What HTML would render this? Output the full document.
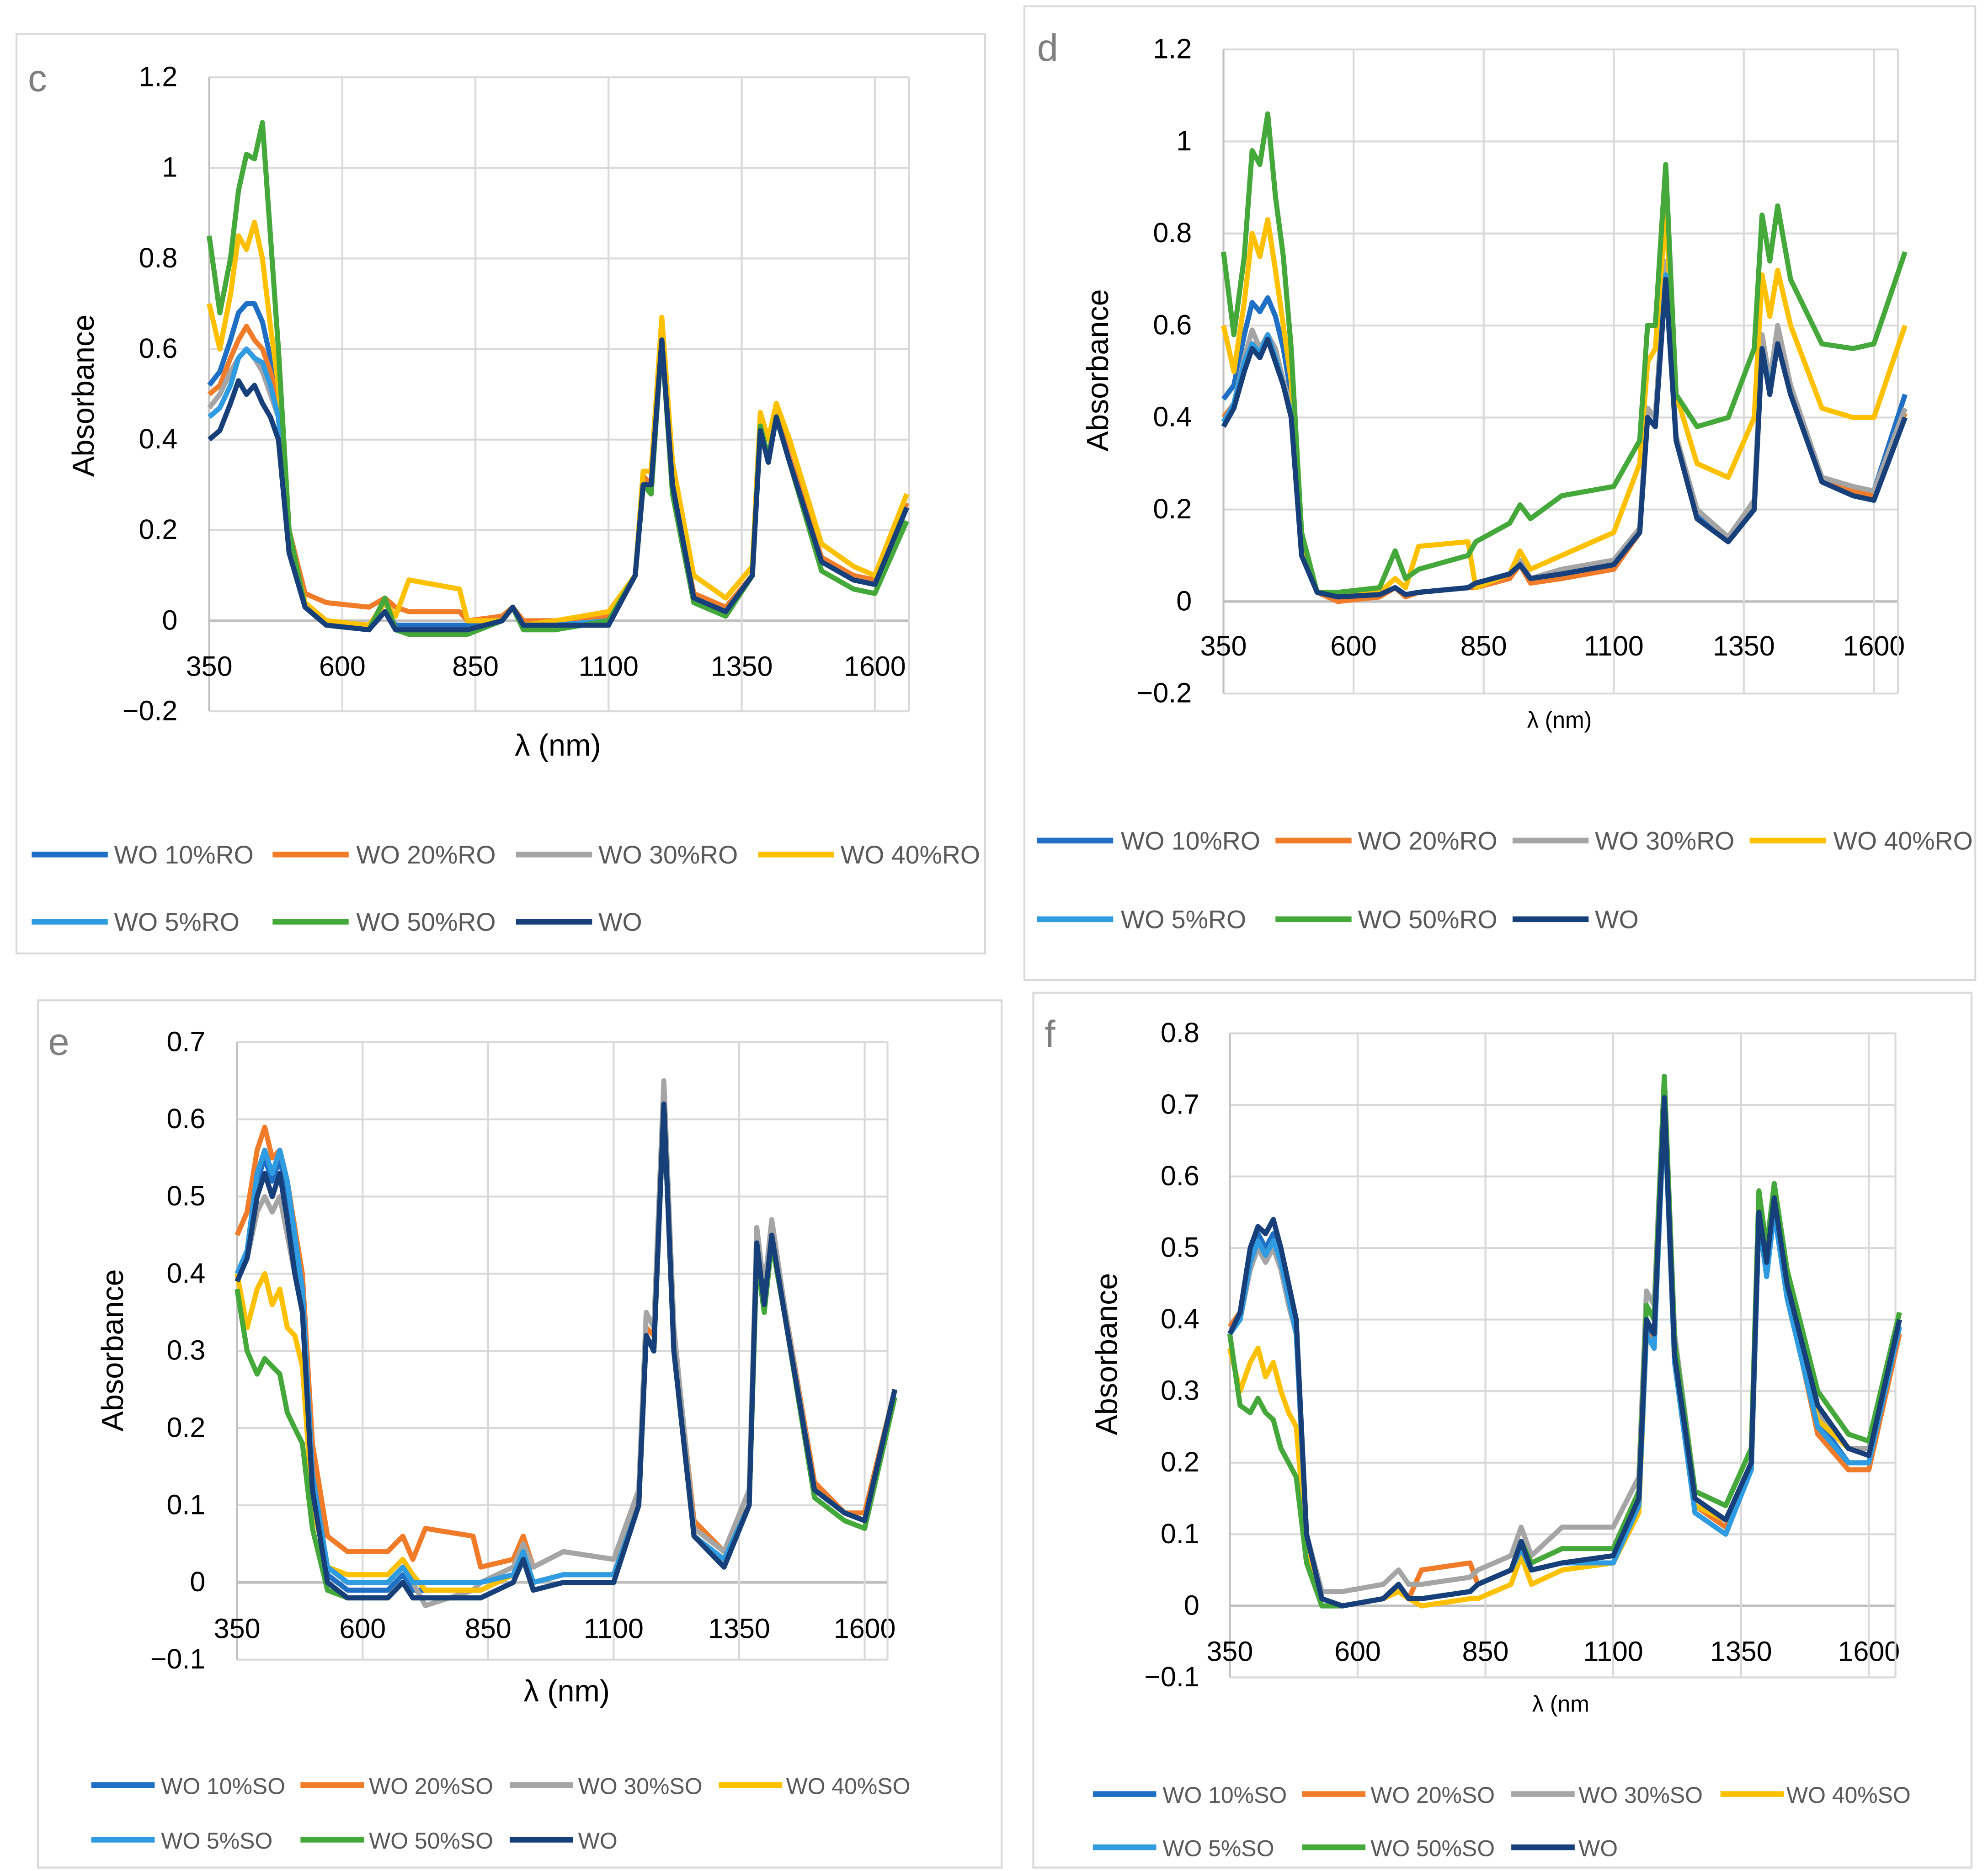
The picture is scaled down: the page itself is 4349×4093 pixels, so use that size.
<!DOCTYPE html>
<html><head><meta charset="utf-8"><style>
html,body{margin:0;padding:0;background:#fff}
svg{display:block}
text{font-family:"Liberation Sans",sans-serif}
</style></head><body>
<svg id="fig" width="4349" height="4093" viewBox="0 0 1568 1475.7" xmlns="http://www.w3.org/2000/svg"></svg>
<script>
const wl=[350,370,390,405,420,435,450,465,480,500,530,570,650,680,700,725,820,835,900,920,940,1000,1100,1150,1165,1180,1200,1220,1260,1320,1370,1385,1400,1415,1440,1500,1560,1600,1660];
const seriesNames=["10%","20%","30%","40%","5%","50%",""];
const seriesColors=["#1f6fc4","#f07c2a","#a5a5a5","#ffc000","#2f9be0","#45a83a","#173f7a"];
// panel c (RO)
const cS10=[0.52,0.55,0.62,0.68,0.70,0.70,0.66,0.58,0.50,0.18,0.04,0.0,-0.01,0.02,-0.01,-0.01,-0.01,-0.01,0.0,0.03,-0.01,0.0,0.0,0.1,0.32,0.3,0.62,0.3,0.05,0.02,0.1,0.43,0.36,0.45,0.35,0.13,0.09,0.08,0.25];
const cS20=[0.50,0.52,0.58,0.62,0.65,0.62,0.60,0.55,0.48,0.2,0.06,0.04,0.03,0.05,0.03,0.02,0.02,0.0,0.01,0.03,0.0,0.0,0.01,0.1,0.32,0.3,0.63,0.3,0.06,0.03,0.1,0.43,0.36,0.46,0.36,0.14,0.1,0.09,0.26];
const cS30=[0.47,0.50,0.55,0.58,0.60,0.58,0.55,0.50,0.45,0.16,0.03,-0.01,-0.02,0.02,-0.02,-0.02,-0.02,-0.02,0.0,0.03,-0.01,-0.01,0.0,0.1,0.3,0.3,0.62,0.3,0.05,0.02,0.1,0.42,0.35,0.45,0.35,0.13,0.09,0.08,0.25];
const cS40=[0.70,0.60,0.72,0.85,0.82,0.88,0.80,0.65,0.52,0.18,0.04,0.0,-0.01,0.04,0.01,0.09,0.07,0.0,0.0,0.03,-0.01,0.0,0.02,0.1,0.33,0.33,0.67,0.35,0.1,0.05,0.12,0.46,0.4,0.48,0.4,0.17,0.12,0.1,0.28];
const cS5=[0.45,0.47,0.52,0.58,0.60,0.58,0.57,0.52,0.45,0.16,0.03,-0.01,-0.02,0.02,-0.02,-0.02,-0.02,-0.02,0.0,0.03,-0.01,-0.01,0.0,0.1,0.3,0.3,0.62,0.3,0.05,0.02,0.1,0.42,0.35,0.45,0.35,0.13,0.09,0.08,0.25];
const cS50=[0.85,0.68,0.80,0.95,1.03,1.02,1.10,0.85,0.60,0.2,0.03,-0.01,-0.02,0.05,-0.02,-0.03,-0.03,-0.03,0.0,0.03,-0.02,-0.02,0.0,0.1,0.3,0.28,0.62,0.28,0.04,0.01,0.1,0.43,0.36,0.45,0.35,0.11,0.07,0.06,0.22];
const cWO=[0.40,0.42,0.48,0.53,0.50,0.52,0.48,0.45,0.40,0.15,0.03,-0.01,-0.02,0.02,-0.02,-0.02,-0.02,-0.02,0.0,0.03,-0.01,-0.01,-0.01,0.1,0.3,0.3,0.62,0.3,0.05,0.02,0.1,0.42,0.35,0.45,0.35,0.13,0.09,0.08,0.25];
// panel d (RO)
const dS10=[0.44,0.47,0.58,0.65,0.63,0.66,0.62,0.55,0.45,0.12,0.02,0.01,0.015,0.03,0.015,0.02,0.03,0.04,0.06,0.08,0.05,0.06,0.08,0.16,0.42,0.4,0.72,0.36,0.19,0.14,0.21,0.56,0.47,0.58,0.46,0.27,0.24,0.24,0.45];
const dS20=[0.40,0.43,0.52,0.56,0.55,0.58,0.54,0.48,0.42,0.1,0.02,0.0,0.01,0.03,0.01,0.02,0.03,0.03,0.05,0.08,0.04,0.05,0.07,0.15,0.4,0.38,0.72,0.35,0.18,0.13,0.2,0.55,0.46,0.57,0.46,0.26,0.24,0.23,0.41];
const dS30=[0.39,0.43,0.53,0.59,0.55,0.58,0.55,0.48,0.42,0.1,0.02,0.01,0.015,0.03,0.015,0.02,0.03,0.04,0.06,0.09,0.05,0.07,0.09,0.16,0.42,0.4,0.74,0.36,0.2,0.14,0.22,0.58,0.48,0.6,0.47,0.27,0.25,0.24,0.42];
const dS40=[0.60,0.50,0.65,0.80,0.75,0.83,0.72,0.60,0.48,0.12,0.02,0.01,0.02,0.05,0.03,0.12,0.13,0.03,0.06,0.11,0.07,0.1,0.15,0.3,0.52,0.55,0.85,0.45,0.3,0.27,0.4,0.71,0.62,0.72,0.6,0.42,0.40,0.40,0.60];
const dS5=[0.39,0.43,0.52,0.56,0.54,0.58,0.53,0.47,0.41,0.1,0.02,0.01,0.015,0.03,0.015,0.02,0.03,0.04,0.06,0.08,0.05,0.06,0.08,0.15,0.4,0.38,0.71,0.35,0.18,0.13,0.2,0.55,0.46,0.56,0.45,0.26,0.23,0.22,0.40];
const dS50=[0.76,0.58,0.75,0.98,0.95,1.06,0.88,0.75,0.55,0.15,0.02,0.02,0.03,0.11,0.05,0.07,0.1,0.13,0.17,0.21,0.18,0.23,0.25,0.35,0.6,0.6,0.95,0.45,0.38,0.4,0.55,0.84,0.74,0.86,0.7,0.56,0.55,0.56,0.76];
const dWO=[0.38,0.42,0.50,0.55,0.53,0.57,0.52,0.47,0.40,0.1,0.02,0.01,0.015,0.03,0.015,0.02,0.03,0.04,0.06,0.08,0.05,0.06,0.08,0.15,0.4,0.38,0.70,0.35,0.18,0.13,0.2,0.55,0.45,0.56,0.45,0.26,0.23,0.22,0.40];
// panel e (SO)
const eS10=[0.40,0.42,0.52,0.55,0.52,0.55,0.50,0.43,0.37,0.13,0.01,-0.01,-0.01,0.01,-0.01,-0.01,-0.01,-0.01,0.01,0.04,0.0,0.01,0.01,0.1,0.32,0.3,0.62,0.3,0.06,0.03,0.1,0.44,0.36,0.45,0.35,0.12,0.09,0.08,0.25];
const eS20=[0.45,0.48,0.56,0.59,0.55,0.56,0.52,0.46,0.40,0.18,0.06,0.04,0.04,0.06,0.03,0.07,0.06,0.02,0.03,0.06,0.02,0.04,0.03,0.1,0.33,0.32,0.64,0.32,0.08,0.04,0.1,0.44,0.37,0.46,0.36,0.13,0.09,0.09,0.25];
const eS30=[0.40,0.42,0.48,0.50,0.48,0.50,0.45,0.40,0.35,0.13,0.02,0.0,0.0,0.02,0.0,-0.03,-0.01,0.0,0.02,0.05,0.02,0.04,0.03,0.12,0.35,0.33,0.65,0.33,0.07,0.04,0.12,0.46,0.38,0.47,0.36,0.12,0.09,0.08,0.25];
const eS40=[0.40,0.33,0.38,0.40,0.36,0.38,0.33,0.32,0.28,0.1,0.02,0.01,0.01,0.03,0.01,-0.01,-0.01,-0.01,0.01,0.04,0.0,0.01,0.01,0.1,0.32,0.3,0.62,0.3,0.06,0.03,0.1,0.44,0.36,0.45,0.35,0.12,0.09,0.08,0.25];
const eS5=[0.40,0.43,0.53,0.56,0.53,0.56,0.52,0.45,0.38,0.14,0.02,0.0,0.0,0.02,0.0,0.0,0.0,0.0,0.01,0.04,0.0,0.01,0.01,0.1,0.32,0.3,0.62,0.3,0.06,0.03,0.1,0.44,0.36,0.45,0.35,0.12,0.09,0.08,0.25];
const eS50=[0.38,0.30,0.27,0.29,0.28,0.27,0.22,0.20,0.18,0.07,-0.01,-0.02,-0.02,0.0,-0.02,-0.02,-0.02,-0.02,0.0,0.03,-0.01,0.0,0.0,0.1,0.32,0.3,0.62,0.3,0.06,0.02,0.1,0.42,0.35,0.44,0.35,0.11,0.08,0.07,0.24];
const eWO=[0.39,0.42,0.50,0.53,0.50,0.53,0.47,0.40,0.35,0.12,0.0,-0.02,-0.02,0.0,-0.02,-0.02,-0.02,-0.02,0.0,0.03,-0.01,0.0,0.0,0.1,0.32,0.3,0.62,0.3,0.06,0.02,0.1,0.44,0.36,0.45,0.35,0.12,0.09,0.08,0.25];
// panel f (SO)
const fS10=[0.39,0.41,0.49,0.52,0.50,0.52,0.49,0.44,0.39,0.1,0.01,0.0,0.01,0.03,0.01,0.01,0.02,0.03,0.05,0.08,0.05,0.06,0.06,0.14,0.39,0.37,0.7,0.34,0.14,0.11,0.19,0.54,0.47,0.56,0.44,0.26,0.2,0.2,0.39];
const fS20=[0.39,0.41,0.49,0.51,0.49,0.51,0.48,0.43,0.38,0.1,0.01,0.0,0.01,0.03,0.01,0.05,0.06,0.03,0.05,0.08,0.05,0.06,0.06,0.14,0.38,0.37,0.7,0.34,0.14,0.11,0.19,0.54,0.47,0.56,0.44,0.24,0.19,0.19,0.38];
const fS30=[0.38,0.40,0.47,0.50,0.48,0.50,0.47,0.42,0.38,0.1,0.02,0.02,0.03,0.05,0.03,0.03,0.04,0.05,0.07,0.11,0.07,0.11,0.11,0.18,0.44,0.42,0.74,0.38,0.16,0.14,0.22,0.55,0.5,0.57,0.47,0.27,0.22,0.22,0.40];
const fS40=[0.36,0.30,0.34,0.36,0.32,0.34,0.30,0.27,0.25,0.08,0.01,0.0,0.01,0.02,0.01,0.0,0.01,0.01,0.03,0.07,0.03,0.05,0.06,0.13,0.38,0.36,0.7,0.34,0.14,0.12,0.2,0.55,0.48,0.57,0.45,0.26,0.22,0.21,0.40];
const fS5=[0.38,0.40,0.48,0.51,0.49,0.51,0.48,0.43,0.38,0.1,0.01,0.0,0.01,0.03,0.01,0.01,0.02,0.03,0.05,0.08,0.05,0.06,0.06,0.14,0.38,0.36,0.7,0.34,0.13,0.1,0.19,0.54,0.46,0.55,0.43,0.25,0.2,0.2,0.39];
const fS50=[0.38,0.28,0.27,0.29,0.27,0.26,0.22,0.20,0.18,0.06,0.0,0.0,0.01,0.03,0.01,0.01,0.02,0.03,0.05,0.09,0.06,0.08,0.08,0.16,0.42,0.4,0.74,0.37,0.16,0.14,0.22,0.58,0.5,0.59,0.47,0.3,0.24,0.23,0.41];
const fWO=[0.38,0.41,0.50,0.53,0.52,0.54,0.50,0.45,0.40,0.1,0.01,0.0,0.01,0.03,0.01,0.01,0.02,0.03,0.05,0.09,0.05,0.06,0.07,0.15,0.4,0.38,0.71,0.35,0.15,0.12,0.2,0.55,0.48,0.57,0.45,0.28,0.22,0.21,0.40];
const xTicks=[350,600,850,1100,1350,1600];
const yTicksC=[-0.2,0,0.2,0.4,0.6,0.8,1,1.2];
const yTicksE=[-0.1,0,0.1,0.2,0.3,0.4,0.5,0.6,0.7];
const yTicksF=[-0.1,0,0.1,0.2,0.3,0.4,0.5,0.6,0.7,0.8];

const NS="http://www.w3.org/2000/svg";
const svg=document.getElementById('fig');
function mk(tag,attrs,parent,txt){const e=document.createElementNS(NS,tag);for(const k in attrs)e.setAttribute(k,attrs[k]);if(txt!==undefined)e.textContent=txt;(parent||svg).appendChild(e);return e;}

const panels=[
 {id:'c',frame:[13,27,764,725],x350:165,x1600:690,xEnd:717,yTop:61,yBot:561,ymin:-0.2,ymax:1.2,ticks:yTicksC,ylx:140,xly:526,letter:[22,72],yt:[66,312,24],xt:[440,596,24,"λ (nm)"],suf:"RO",leg:[[25,90],[215,281],[407,472],[598,663]],legY:[674,727],lw:60,lfs:20,data:[cS10,cS20,cS30,cS40,cS5,cS50,cWO]},
 {id:'d',frame:[808,5,750,768],x350:965,x1600:1478,xEnd:1497,yTop:39,yBot:547,ymin:-0.2,ymax:1.2,ticks:yTicksC,ylx:940,xly:510,letter:[818,48],yt:[866,292,24],xt:[1230,574,18,"λ (nm)"],suf:"RO",leg:[[818,884],[1006,1071],[1193,1258],[1380,1446]],legY:[663,725],lw:60,lfs:20,data:[dS10,dS20,dS30,dS40,dS5,dS50,dWO]},
 {id:'e',frame:[30,789,760,684],x350:187,x1600:682,xEnd:700,yTop:822,yBot:1309,ymin:-0.1,ymax:0.7,ticks:yTicksE,ylx:162,xly:1285,letter:[38,832],yt:[89,1065,24],xt:[447,1342,24,"λ (nm)"],suf:"SO",leg:[[72,127],[237,291],[402,456],[567,620]],legY:[1408,1451],lw:50,lfs:18,data:[eS10,eS20,eS30,eS40,eS5,eS50,eWO]},
 {id:'f',frame:[815,783,740,690],x350:970,x1600:1474,xEnd:1495,yTop:815,yBot:1323,ymin:-0.1,ymax:0.8,ticks:yTicksF,ylx:946,xly:1303,letter:[824,826],yt:[873,1068,24],xt:[1231,1350,18,"λ (nm"],suf:"SO",leg:[[862,917],[1027,1081],[1192,1245],[1357,1409]],legY:[1415,1457],lw:50,lfs:18,data:[fS10,fS20,fS30,fS40,fS5,fS50,fWO]}
];

panels.forEach(p=>{
 const g=mk('g',{});
 
 
 const X=v=>p.x350+(v-350)*(p.x1600-p.x350)/1250;
 const Y=v=>p.yTop+(p.ymax-v)*(p.yBot-p.yTop)/(p.ymax-p.ymin);
 const fr=mk('rect',{x:p.frame[0],y:p.frame[1],width:p.frame[2],height:p.frame[3],fill:'#fff',stroke:'#d9d9d9','stroke-width':1.5},g);
 
 
 p.ticks.forEach(t=>{
  const l=mk('line',{x1:X(350),x2:p.xEnd,y1:Y(t),y2:Y(t),stroke:t===0?'#bfbfbf':'#d9d9d9','stroke-width':t===0?2:1.5},g);
  
  
  const tx=mk('text',{x:p.ylx,y:Y(t)+7,'text-anchor':'end','font-size':22,fill:'#000'},g,t<0?'\u2212'+Math.abs(t):String(t));
  
  
 });
 xTicks.forEach(t=>{
  const l=mk('line',{x1:X(t),x2:X(t),y1:p.yTop,y2:p.yBot,stroke:t===350?'#bfbfbf':'#d9d9d9','stroke-width':1.5},g);
  
  
  const tx=mk('text',{x:X(t),y:p.xly+7,'text-anchor':'middle','font-size':22,fill:'#000'},g,String(t));
  
  
 });
 const re=mk('line',{x1:p.xEnd,x2:p.xEnd,y1:p.yTop,y2:p.yBot,stroke:'#d9d9d9','stroke-width':1.5},g);
 
 
 p.data.forEach((arr,i)=>{
  const d=arr.map((v,k)=>(k?'L':'M')+X(wl[k]).toFixed(1)+','+Y(v).toFixed(1)).join('');
  const pa=mk('path',{d:d,fill:'none',stroke:seriesColors[i],'stroke-width':4,'stroke-linejoin':'round'},g);
  
  
 });
 const le=mk('text',{x:p.letter[0],y:p.letter[1],'font-size':30,fill:'#7f7f7f'},g,p.id);
 
 
 const yt=mk('text',{x:p.yt[0],y:p.yt[1],'font-size':p.yt[2],'text-anchor':'middle',transform:'rotate(-90 '+p.yt[0]+' '+p.yt[1]+')',dy:8},g,'Absorbance');
 
 
 const xt=mk('text',{x:p.xt[0],y:p.xt[1],'font-size':p.xt[2],'text-anchor':'middle'},g,p.xt[3]);
 
 
 const labels=['WO 10%'+p.suf,'WO 20%'+p.suf,'WO 30%'+p.suf,'WO 40%'+p.suf,'WO 5%'+p.suf,'WO 50%'+p.suf,'WO'];
 labels.forEach((lab,i)=>{
  const col=i%4,row=Math.floor(i/4);
  const lx=p.leg[col][0],tx0=p.leg[col][1],ly=p.legY[row];
  const lg=mk('g',{},g);
  
  
  mk('line',{x1:lx,x2:lx+p.lw,y1:ly,y2:ly,stroke:seriesColors[i],'stroke-width':4.5},lg);
  mk('text',{x:tx0,y:ly+7,'font-size':p.lfs,fill:'#595959'},lg,lab);
 });
});
</script>
</body></html>
